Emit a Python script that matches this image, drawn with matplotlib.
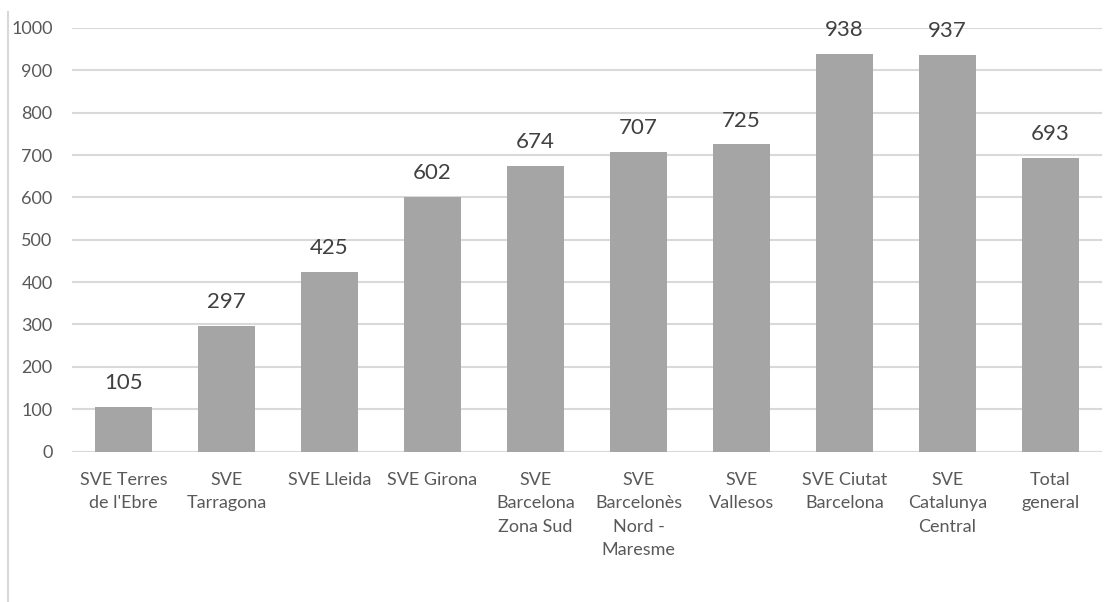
import matplotlib
matplotlib.use("Agg")
import matplotlib.pyplot as plt
from matplotlib.lines import Line2D

categories = [
    "SVE Terres\nde l'Ebre",
    "SVE\nTarragona",
    "SVE Lleida",
    "SVE Girona",
    "SVE\nBarcelona\nZona Sud",
    "SVE\nBarcelonès\nNord -\nMaresme",
    "SVE\nVallesos",
    "SVE Ciutat\nBarcelona",
    "SVE\nCatalunya\nCentral",
    "Total\ngeneral",
]
values = [105, 297, 425, 602, 674, 707, 725, 938, 937, 693]
yticks = [0, 100, 200, 300, 400, 500, 600, 700, 800, 900, 1000]

plt.rcParams["font.family"] = ["Lato", "DejaVu Sans"]

fig = plt.figure(figsize=(11.07, 6.02), dpi=100)
ax = fig.add_axes([72 / 1107, 150.5 / 602, 1030 / 1107, 423.5 / 602])

x = list(range(len(categories)))
ax.bar(x, values, width=0.56, color="#A5A5A5", zorder=3)

for xi, v in zip(x, values):
    ax.annotate(str(v), (xi, v), xytext=(0, 10), textcoords="offset points",
                ha="center", va="bottom", fontsize=16, color="#404040")

ax.set_xlim(-0.5, len(categories) - 0.5)
ax.set_ylim(0, 1000)
ax.set_yticks(yticks)
ax.set_yticklabels([str(t) for t in yticks], fontsize=13, color="#595959")
ax.set_xticks(x)
ax.set_xticklabels(categories, fontsize=13, color="#595959", linespacing=1.55, va="top")
ax.tick_params(axis="y", length=0, pad=14)
ax.tick_params(axis="x", length=0, pad=15)
ax.yaxis.grid(True, color="#D9D9D9", linewidth=1.5, zorder=0)
ax.set_axisbelow(True)
for s in ax.spines.values():
    s.set_visible(False)
ax.axhline(0, color="#D9D9D9", linewidth=1.5, zorder=2)

# left border of the chart frame
fig.add_artist(Line2D([8 / 1107, 8 / 1107], [0, 590 / 602], transform=fig.transFigure,
                      color="#D9D9D9", linewidth=1.5))

fig.savefig("out.png", dpi=100, facecolor="white")
